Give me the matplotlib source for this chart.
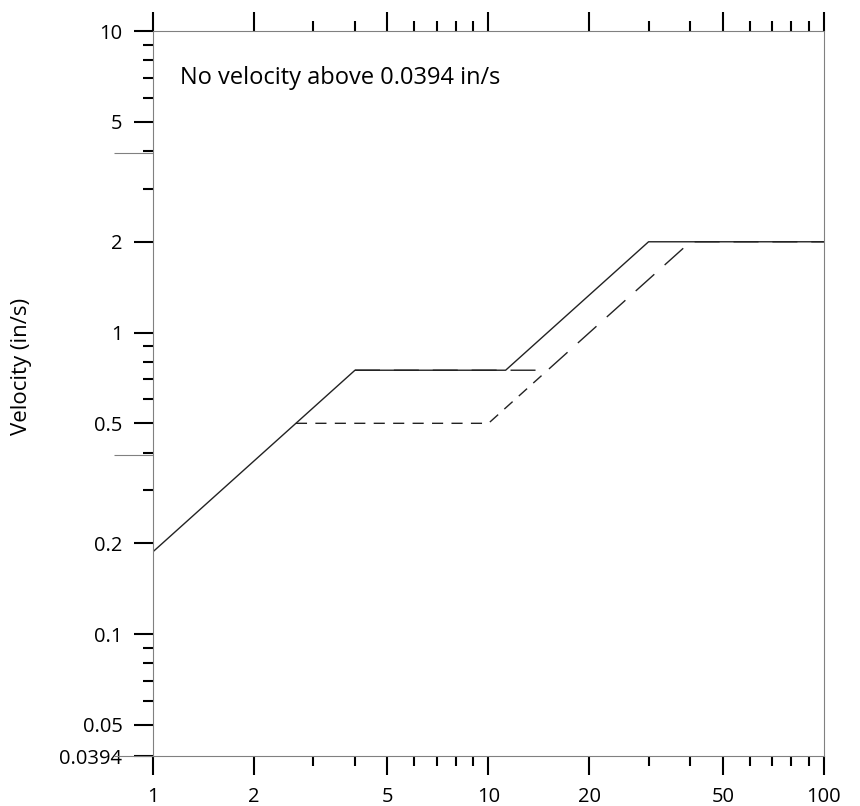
import matplotlib
matplotlib.use('Agg')
import matplotlib.pyplot as plt
from matplotlib.ticker import FixedLocator, NullFormatter

plt.rcParams['font.family'] = ['Open Sans', 'DejaVu Sans']

# frequency (Hz) vs velocity (in/s)
solid_x = [1, 4, 11.25, 30, 100]
solid_y = [0.1875, 0.75, 0.75, 2, 2]
short_x = [2.667, 10, 15]
short_y = [0.5, 0.5, 0.75]
long_x = [4, 15, 40, 100]
long_y = [0.75, 0.75, 2, 2]

x_major = [1, 2, 5, 10, 20, 50, 100]
x_minor = [3, 4, 6, 7, 8, 9, 30, 40, 60, 70, 80, 90]
y_major = [0.0394, 0.05, 0.1, 0.2, 0.5, 1, 2, 5, 10]
y_major_labels = ['0.0394', '0.05', '0.1', '0.2', '0.5', '1', '2', '5', '10']
y_minor = [0.06, 0.07, 0.08, 0.09, 0.3, 0.4, 0.6, 0.7, 0.8, 0.9, 3, 4, 6, 7, 8, 9]
y_ref = [0.0394, 0.394, 3.94]  # 1, 10, 100 mm/s

fig = plt.figure(figsize=(8.6, 8.06), dpi=100)
ax = fig.add_axes([0.1779, 0.0620, 0.7802, 0.8995])
ax.set_xscale('log')
ax.set_yscale('log')

line_c = '#222222'
ax.plot(solid_x, solid_y, color=line_c, lw=1.0)
ax.plot(short_x, short_y, color=line_c, lw=1.0, dashes=(8, 6))
ax.plot(long_x, long_y, color=line_c, lw=1.0, dashes=(18, 10))

ax.set_xlim(1, 100)
ax.set_ylim(0.0394, 10)

ax.xaxis.set_major_locator(FixedLocator(x_major))
ax.xaxis.set_minor_locator(FixedLocator(x_minor))
ax.set_xticklabels([str(v) for v in x_major])
ax.xaxis.set_minor_formatter(NullFormatter())
ax.yaxis.set_major_locator(FixedLocator(y_major))
ax.yaxis.set_minor_locator(FixedLocator(y_minor))
ax.set_yticklabels(y_major_labels)
ax.yaxis.set_minor_formatter(NullFormatter())

ax.tick_params(which='both', direction='out', top=True, right=True,
               color='black', width=1.5, labelsize=14.5)
ax.tick_params(which='major', length=14)
ax.tick_params(axis='y', which='major', pad=8)
ax.tick_params(axis='x', which='major', pad=8)
ax.tick_params(which='minor', length=7)

for s in ax.spines.values():
    s.set_color('#808080')
    s.set_linewidth(0.8)

ax.set_ylabel('Velocity (in/s)', fontsize=16)
ax.yaxis.set_label_coords(-0.18, 0.537)

ax.text(0.04, 0.935, 'No velocity above 0.0394 in/s', transform=ax.transAxes,
        fontsize=17, va='center', ha='left')

# long grey reference marks on the left
ax2 = ax.twinx()
ax2.set_yscale('log')
ax2.set_ylim(0.0394, 10)
ax2.yaxis.set_ticks_position('left')
ax2.yaxis.set_major_locator(FixedLocator(y_ref))
ax2.yaxis.set_minor_locator(FixedLocator([]))
ax2.yaxis.set_major_formatter(NullFormatter())
ax2.tick_params(axis='y', which='major', length=28, width=0.8, color='#808080')
for s in ax2.spines.values():
    s.set_visible(False)

fig.savefig('out.png', dpi=100)
